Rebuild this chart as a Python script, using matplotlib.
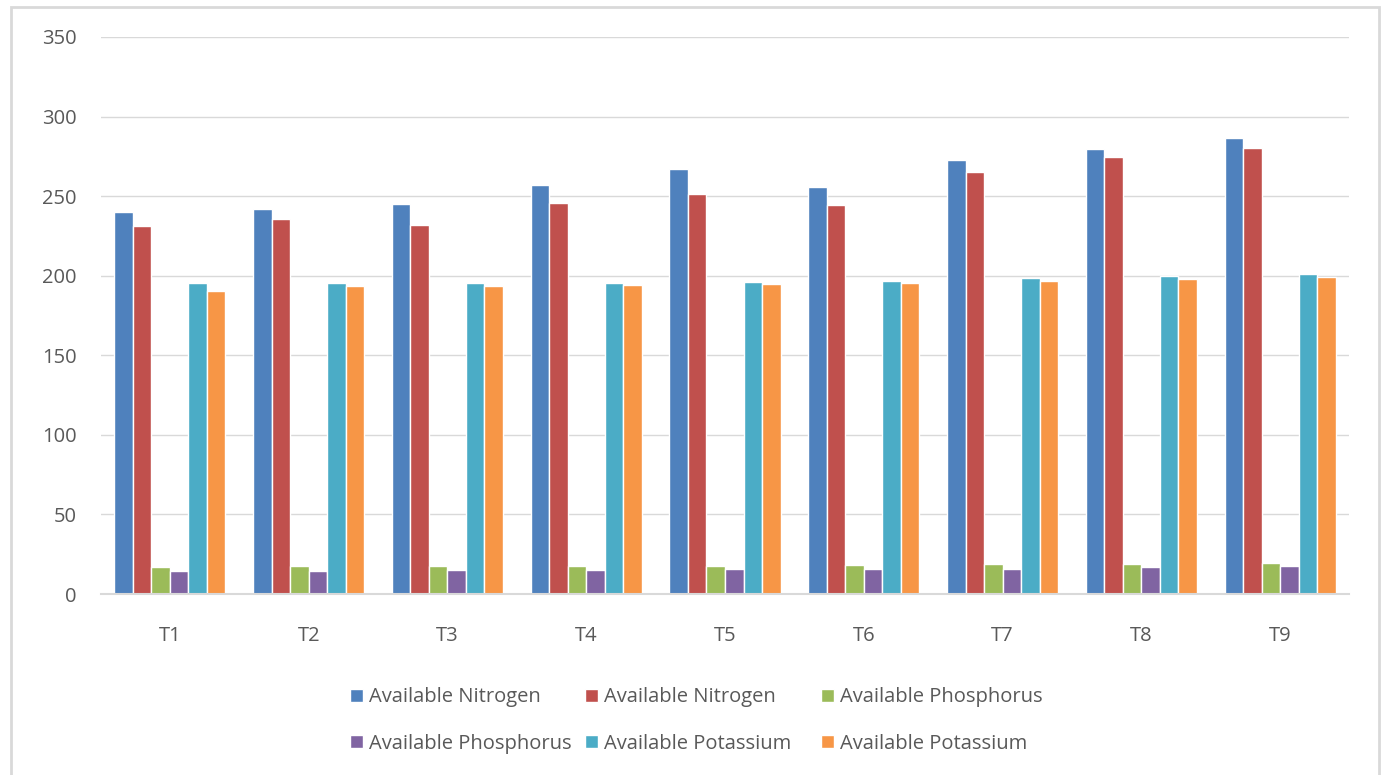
import matplotlib.pyplot as plt
from matplotlib.patches import Rectangle
import numpy as np

plt.rcParams['font.family'] = ['Open Sans', 'DejaVu Sans']

# data
treatments = ['T1', 'T2', 'T3', 'T4', 'T5', 'T6', 'T7', 'T8', 'T9']
nitrogen_a = [240, 242, 245, 257, 267, 255.5, 272.5, 279.5, 286.5]
nitrogen_b = [231.5, 235.5, 232, 245.5, 251.5, 244.5, 265, 274.5, 280]
phosphorus_a = [16.8, 17.3, 17.5, 17.7, 17.8, 18.5, 18.7, 18.9, 19.3]
phosphorus_b = [14.3, 14.7, 15.0, 15.3, 15.8, 15.9, 16.0, 17.0, 17.9]
potassium_a = [195.3, 195.3, 195.3, 195.5, 196.2, 196.7, 198.8, 199.9, 201.2]
potassium_b = [190.2, 193.3, 193.5, 194.0, 195.0, 195.4, 196.6, 197.8, 199.3]

series = [nitrogen_a, nitrogen_b, phosphorus_a, phosphorus_b, potassium_a, potassium_b]
labels = ['Available Nitrogen', 'Available Nitrogen', 'Available Phosphorus',
          'Available Phosphorus', 'Available Potassium', 'Available Potassium']
colors = ['#4F81BD', '#C0504D', '#9BBB59', '#8064A2', '#4BACC6', '#F79646']

fig = plt.figure(figsize=(13.87, 7.75), dpi=100)
ax = fig.add_axes([100.6 / 1387, 1 - 594 / 775, 1248.8 / 1387, 557 / 775])

x = np.arange(len(treatments))
w = 0.8 / 6
bars = []
for i, (vals, lab, c) in enumerate(zip(series, labels, colors)):
    b = ax.bar(x - 0.4 + w * (i + 0.5), vals, w, color=c, edgecolor='white',
               linewidth=1.0, label=lab, zorder=3)
    bars.append(b)

ax.set_xlim(-0.5, len(treatments) - 0.5)
ax.set_ylim(0, 350)
ax.set_yticks(range(0, 351, 50))
ax.set_xticks(x)
ax.set_xticklabels(treatments)
ax.grid(axis='y', color='#d9d9d9', linewidth=1.0, zorder=0)
for s in ['top', 'right', 'left']:
    ax.spines[s].set_visible(False)
ax.spines['bottom'].set_color('#d9d9d9')
ax.spines['bottom'].set_linewidth(1.5)
ax.spines['bottom'].set_zorder(4)
ax.tick_params(axis='both', length=0, labelsize=14.5, labelcolor='#595959')
ax.tick_params(axis='y', pad=17)
ax.tick_params(axis='x', pad=23)

# legend laid out row-wise with equal column widths, one legend per column
columns = [[0, 3], [1, 4], [2, 5]]
col_left = [350, 585, 821]
for idx, left in zip(columns, col_left):
    leg = fig.legend([bars[i] for i in idx], [labels[i] for i in idx],
                     loc='center left', bbox_to_anchor=(left / 1387, 1 - 720.5 / 775),
                     frameon=False, fontsize=14.5, handlelength=0.65,
                     handleheight=0.65, handletextpad=0.3, labelspacing=1.3,
                     borderpad=0, borderaxespad=0)
    for t in leg.get_texts():
        t.set_color('#595959')

# chart area border
fig.patches.append(Rectangle((11 / 1387, -0.05), 1368 / 1387, 1.05 - 7 / 775,
                             transform=fig.transFigure, fill=False,
                             edgecolor='#d9d9d9', linewidth=2))

plt.savefig('out.png')
